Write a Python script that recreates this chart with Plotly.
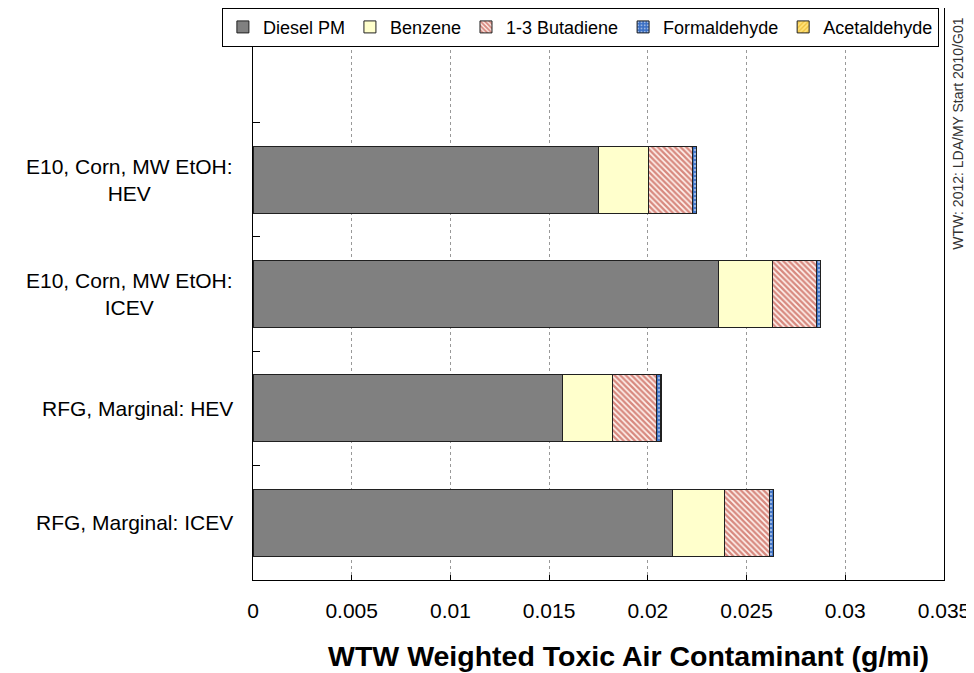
import plotly.graph_objects as go

# Categories (bottom to top), top band left empty as in the reference
categories = [
    "RFG, Marginal: ICEV",
    "RFG, Marginal: HEV",
    "E10, Corn, MW EtOH:<br>ICEV",
    "E10, Corn, MW EtOH:<br>HEV",
]
diesel_pm = [0.02124, 0.01569, 0.02359, 0.01751]
benzene = [0.00263, 0.00254, 0.00270, 0.00253]
butadiene = [0.00227, 0.00220, 0.00226, 0.00220]
formaldehyde = [0.00020, 0.00022, 0.00018, 0.00020]
acetaldehyde = [0.00002, 0.00002, 0.00002, 0.00002]
x_ticks = [0, 0.005, 0.01, 0.015, 0.02, 0.025, 0.03, 0.035]
x_tick_labels = ["0", "0.005", "0.01", "0.015", "0.02", "0.025", "0.03", "0.035"]

positions = list(range(len(categories)))
FONT = "Liberation Sans, Arial, sans-serif"

series = [
    ("Diesel PM", diesel_pm, dict(color="#808080")),
    ("Benzene", benzene, dict(color="#FFFFCC")),
    ("1-3 Butadiene", butadiene, dict(color="white",
        pattern=dict(shape="\\", fgcolor="#B01E0E", bgcolor="#FFF4F0", size=4, solidity=0.6))),
    ("Formaldehyde", formaldehyde, dict(color="#3A6FC4",
        pattern=dict(shape=".", fgcolor="white", bgcolor="#3A6FC4", size=4, solidity=0.3))),
    ("Acetaldehyde", acetaldehyde, dict(color="#FFE27A",
        pattern=dict(shape="/", fgcolor="#E0A000", bgcolor="#FFE27A", size=4, solidity=0.4))),
]

fig = go.Figure()
for name, vals, mk in series:
    mk = dict(mk)
    mk["line"] = dict(color="#202020", width=1)
    fig.add_trace(go.Bar(
        name=name, x=vals, y=positions, orientation="h",
        width=0.585, marker=mk,
    ))

annotations = []
for pos, label in zip(positions, categories):
    annotations.append(dict(
        x=0, xref="paper", y=pos, yref="y", text=label, showarrow=False,
        xanchor="right", yanchor="middle", align="center", xshift=-18,
        font=dict(family=FONT, size=21, color="black"),
    ))
annotations.append(dict(
    x=0.543, xref="paper", y=-0.133, yref="paper", showarrow=False,
    text="<b>WTW Weighted Toxic Air Contaminant (g/mi)</b>",
    xanchor="center", yanchor="middle",
    font=dict(family=FONT, size=28.5, color="black"),
))
annotations.append(dict(
    x=1.02, xref="paper", y=0.78, yref="paper", showarrow=False,
    text="WTW: 2012: LDA/MY Start 2010/G01", textangle=-90,
    xanchor="center", yanchor="middle",
    font=dict(family=FONT, size=14, color="#333333"),
))

# page body has an 8px margin, so the figure is shrunk by 8px on top/left
fig.update_layout(
    barmode="stack",
    width=966, height=665,
    margin=dict(l=245, r=30, t=0, b=93, autoexpand=False),
    paper_bgcolor="white", plot_bgcolor="white",
    font=dict(family=FONT, color="black"),
    showlegend=True,
    legend=dict(
        orientation="h", x=-0.045, xanchor="left",
        y=1.0005, yanchor="top",
        bordercolor="black", borderwidth=1, bgcolor="white",
        font=dict(family=FONT, size=18, color="black"),
        itemwidth=30, traceorder="normal",
    ),
    xaxis=dict(
        range=[0, 0.035], tickvals=x_ticks, ticktext=x_tick_labels,
        showgrid=True, gridcolor="#999999", griddash="3px,3px", gridwidth=1,
        ticks="inside", ticklen=5, tickcolor="black",
        showline=True, linecolor="black", linewidth=1, mirror=True,
        zeroline=False, ticklabelstandoff=12,
        tickfont=dict(family=FONT, size=21, color="black"),
    ),
    yaxis=dict(
        range=[-0.5, 4.5], tickvals=[0.5, 1.5, 2.5, 3.5],
        showticklabels=False, ticks="inside", ticklen=7, tickcolor="black",
        showgrid=False, zeroline=False,
        showline=True, linecolor="black", linewidth=1, mirror=True,
    ),
    annotations=annotations,
)

fig.write_html("out.html")
